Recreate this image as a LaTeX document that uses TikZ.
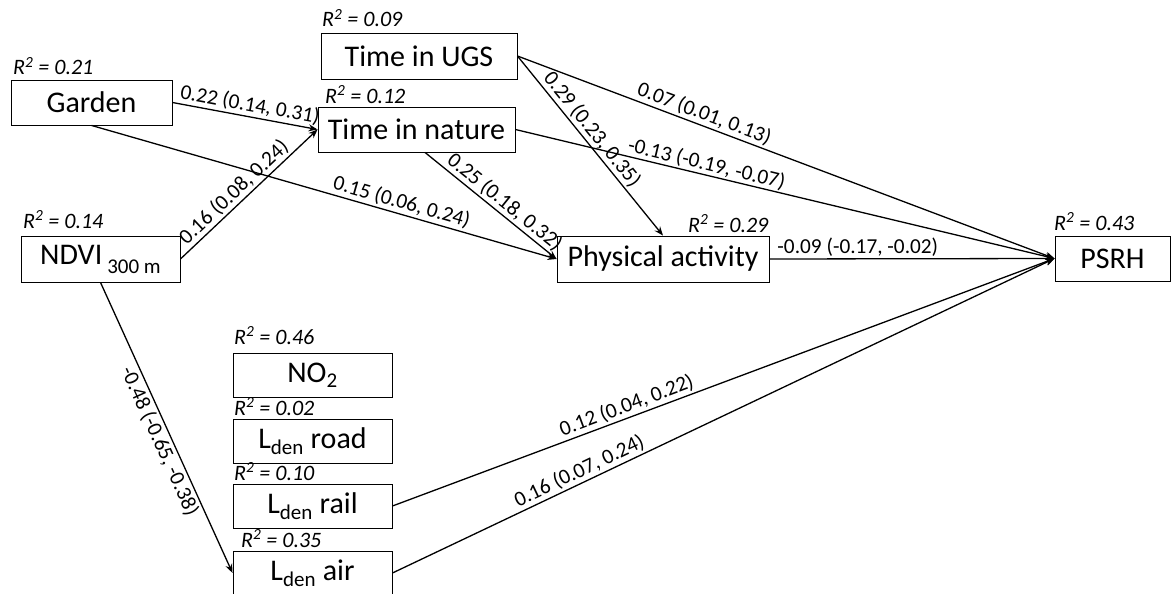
\documentclass[tikz,border=0pt]{standalone}
\usepackage{fontspec}
\setmainfont{Carlito}
\usetikzlibrary{arrows.meta,calc}
\begin{document}
\begin{tikzpicture}[x=1pt,y=-1pt,
  box/.style={draw, line width=0.9pt, rectangle, inner sep=0pt, font=\fontsize{30}{34}\selectfont},
  rsq/.style={anchor=base west, inner sep=0pt, font=\fontsize{22}{25}\selectfont\itshape},
  arr/.style={line width=1.3pt, -{Stealth[length=9pt,width=7pt]}},
  lab/.style={sloped, inner sep=2pt, font=\fontsize{21.3}{24}\selectfont}]
\useasboundingbox (0,0) rectangle (1171,594);
\clip (0,0) rectangle (1171,594);
% boxes
\node[box, minimum width=161pt, minimum height=45pt] (garden) at (91.5,102.5) {Garden};
\node[box, minimum width=159pt, minimum height=46pt] (ndvi) at (100.5,259) {NDVI\,\raisebox{-0.3em}{\fontsize{21}{22}\selectfont 300 m}};
\node[box, minimum width=196pt, minimum height=46pt] (ugs) at (419,56) {Time in UGS};
\node[box, minimum width=197pt, minimum height=45pt] (tin) at (416.5,129.5) {Time in nature};
\node[box, minimum width=212pt, minimum height=46pt] (pa) at (663,259) {Physical activity};
\node[box, minimum width=115pt, minimum height=45pt] (psrh) at (1112.5,258.5) {PSRH};
\node[box, minimum width=159pt, minimum height=44pt] (no2) at (312.5,375) {NO\textsubscript{2}};
\node[box, minimum width=159pt, minimum height=44pt] (road) at (312.5,441) {L\textsubscript{den} road};
\node[box, minimum width=159pt, minimum height=44pt] (rail) at (312.5,506) {L\textsubscript{den} rail};
\node[box, minimum width=159pt, minimum height=44pt] (air) at (312.5,573) {L\textsubscript{den} air};
% R^2 labels
\node[rsq] (r1) at (13,75) {R\textsuperscript{2} = 0.21};
\node[rsq] (r2) at (23,228) {R\textsuperscript{2} = 0.14};
\node[rsq] (r3) at (322,27) {R\textsuperscript{2} = 0.09};
\node[rsq] (r4) at (325,103) {R\textsuperscript{2} = 0.12};
\node[rsq] (r5) at (688,232) {R\textsuperscript{2} = 0.29};
\node[rsq] (r6) at (1054,230) {R\textsuperscript{2} = 0.43};
\node[rsq] (r7) at (234,344) {R\textsuperscript{2} = 0.46};
\node[rsq] (r8) at (234,415) {R\textsuperscript{2} = 0.02};
\node[rsq] (r9) at (234,480) {R\textsuperscript{2} = 0.10};
\node[rsq] (r10) at (241,547) {R\textsuperscript{2} = 0.35};
% paths
\draw[arr] (garden.east) -- node[lab, above, pos=0.52] (l1) {0.22 (0.14, 0.31)} (tin.west);
\draw[arr] (garden.south) -- node[lab, above, pos=0.66] (l2) {0.15 (0.06, 0.24)} (pa.west);
\draw[arr] (ndvi.east) -- node[lab, above, pos=0.45] (l3) {0.16 (0.08, 0.24)} (tin.west);
\draw[arr] (ndvi.south) -- node[lab, below, pos=0.53] (l4) {-0.48 (-0.65, -0.38)} (air.west);
\draw[arr] (ugs.east) -- node[lab, above, pos=0.34] (l5) {0.07 (0.01, 0.13)} (psrh.west);
\draw[arr] (ugs.east) -- node[lab, above, pos=0.45] (l6) {0.29 (0.23, 0.35)} (pa.north);
\draw[arr] (tin.east) -- node[lab, above, pos=0.35, inner sep=1pt] (l7) {-0.13 (-0.19, -0.07)} (psrh.west);
\draw[arr] ($(tin.south)+(8.5,0)$) -- node[lab, above, pos=0.55] (l8) {0.25 (0.18, 0.32)} (pa.west);
\draw[arr] (pa.east) -- node[lab, above, pos=0.31] (l9) {-0.09 (-0.17, -0.02)} (psrh.west);
\draw[arr] (rail.east) -- node[lab, above, pos=0.36] (l10) {0.12 (0.04, 0.22)} (psrh.west);
\draw[arr] (air.east) -- node[lab, above, pos=0.29] (l11) {0.16 (0.07, 0.24)} (psrh.west);
\end{tikzpicture}
\end{document}
